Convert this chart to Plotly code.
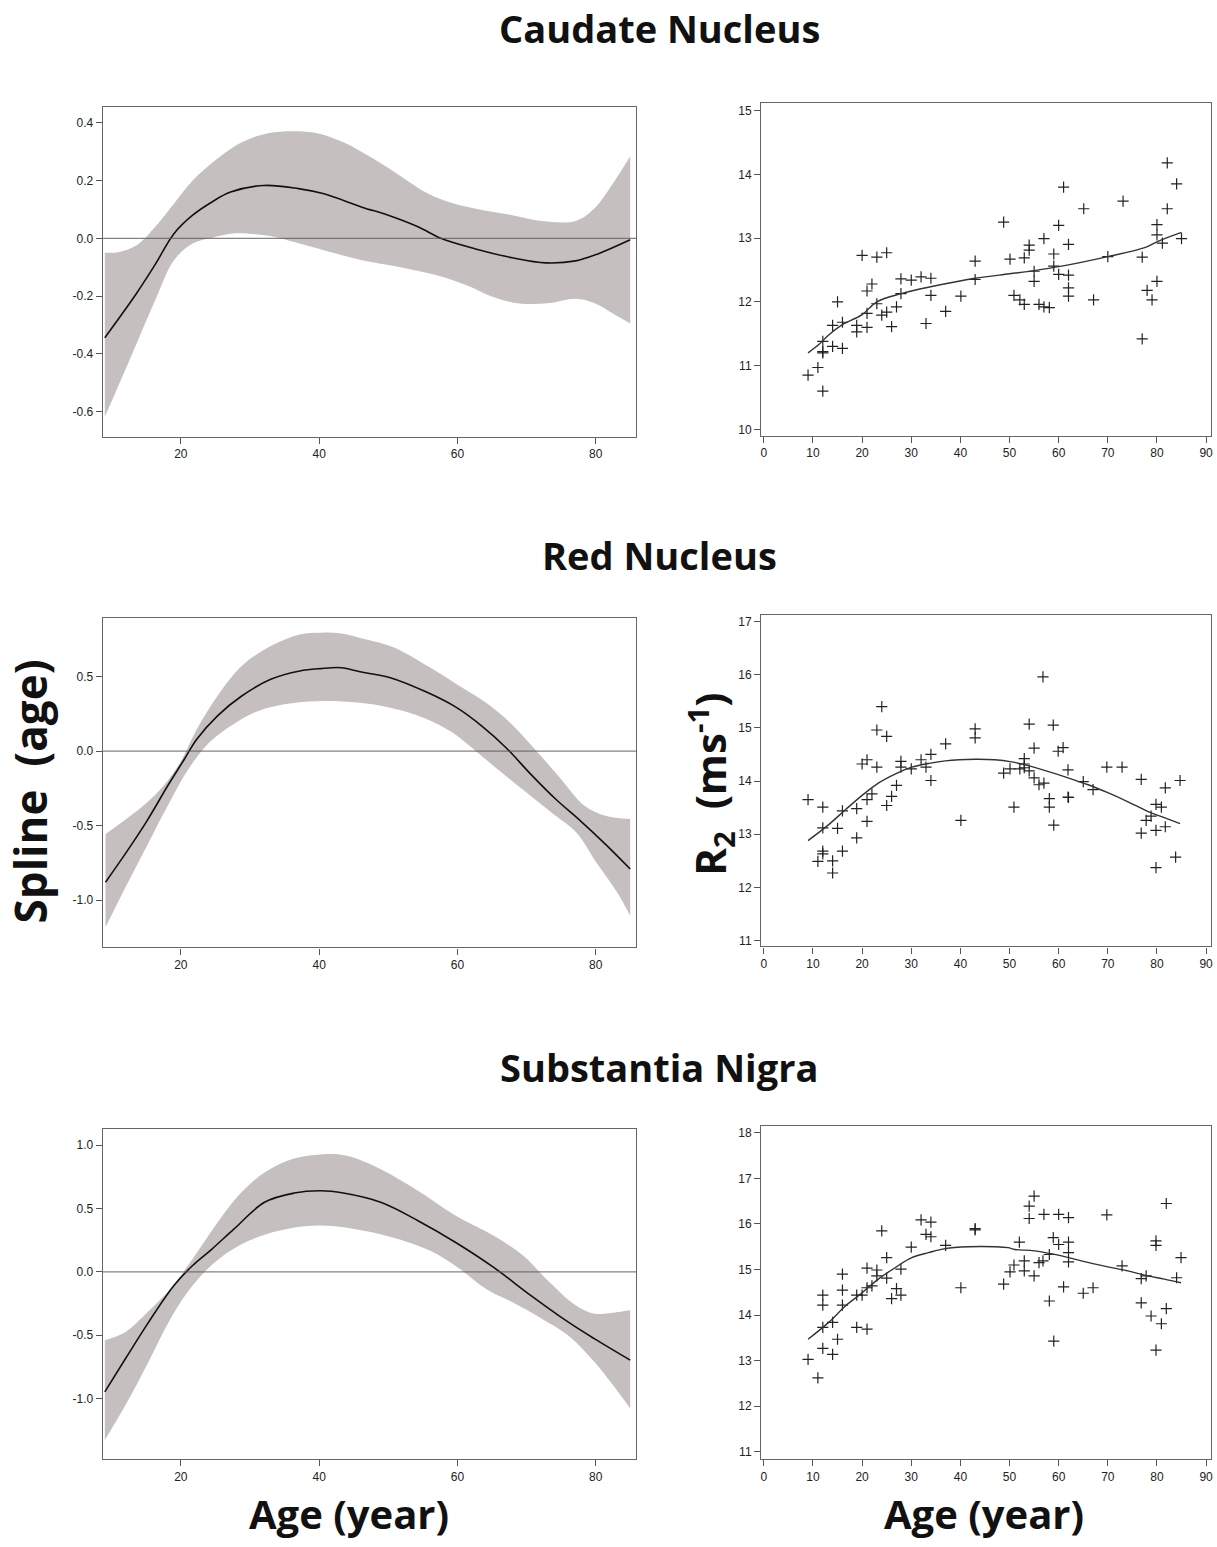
import plotly.graph_objects as go

# ---------------- Data ----------------
panel_titles = ["Caudate Nucleus", "Red Nucleus", "Substantia Nigra"]

# Spline (age) fits: curve and confidence band (left column)
cn_curve_x = [9, 13.6, 16.3, 19.0, 21.7, 24.5, 27.2, 32, 37, 40.7, 46.2, 50, 54.3, 57.6, 62.5, 67.9, 72.8, 77.1, 80.4, 85]
cn_curve_y = [-0.344, -0.19, -0.09, 0.016, 0.08, 0.126, 0.16, 0.183, 0.172, 0.154, 0.108, 0.08, 0.04, 0.0, -0.036, -0.067, -0.085, -0.078, -0.053, -0.005]
cn_up_x = [9, 10.9, 13.6, 16.3, 19, 21.7, 25.5, 28.8, 32.6, 36.4, 39.7, 43.5, 47.8, 51.6, 54.9, 58.1, 62.5, 67.9, 72.2, 77.1, 79.8, 82.5, 85]
cn_up_y = [-0.05, -0.048, -0.024, 0.04, 0.12, 0.2, 0.28, 0.333, 0.364, 0.371, 0.364, 0.333, 0.276, 0.218, 0.166, 0.131, 0.103, 0.08, 0.06, 0.06, 0.103, 0.19, 0.284]
cn_lo_x = [9, 10.9, 13.6, 16.3, 19, 21.7, 24.5, 27.2, 29.9, 33.1, 36.4, 40.7, 46.2, 51.6, 57.0, 61.4, 65.2, 69, 73.3, 77.1, 79.8, 82.5, 85]
cn_lo_y = [-0.618, -0.514, -0.364, -0.214, -0.076, -0.018, 0.002, 0.016, 0.016, 0.007, -0.013, -0.041, -0.076, -0.099, -0.128, -0.163, -0.203, -0.226, -0.224, -0.209, -0.224, -0.26, -0.295]

rn_curve_x = [9.1, 12.1, 15.1, 18.1, 20.5, 22.3, 25.3, 28.8, 33, 37.2, 40.2, 43.2, 46.1, 50.3, 55.7, 59.9, 63.5, 67, 70.6, 74.2, 77.8, 81.4, 85]
rn_curve_y = [-0.879, -0.679, -0.467, -0.232, -0.054, 0.08, 0.237, 0.37, 0.482, 0.538, 0.554, 0.56, 0.531, 0.493, 0.393, 0.292, 0.17, 0.025, -0.154, -0.321, -0.467, -0.623, -0.79]
rn_up_x = [9.1, 12.1, 15.1, 17.5, 19.9, 22.3, 25.3, 28.8, 33, 37.2, 40.2, 43.2, 46.7, 50.9, 55.7, 59.9, 64.1, 67.6, 71.2, 74.8, 78.4, 81.4, 85]
rn_up_y = [-0.556, -0.455, -0.344, -0.232, -0.076, 0.147, 0.37, 0.571, 0.705, 0.783, 0.795, 0.79, 0.75, 0.694, 0.571, 0.449, 0.326, 0.192, 0.013, -0.176, -0.366, -0.433, -0.455]
rn_lo_x = [9.1, 12.1, 15.1, 18.1, 21.1, 24.1, 27.6, 31.2, 36, 40.8, 45.6, 50.3, 55.1, 59.3, 62.9, 66.4, 70, 73.6, 77.2, 80.1, 83.1, 85]
rn_lo_y = [-1.18, -0.902, -0.634, -0.366, -0.12, 0.058, 0.181, 0.27, 0.321, 0.337, 0.326, 0.292, 0.225, 0.125, -0.009, -0.143, -0.277, -0.411, -0.545, -0.746, -0.946, -1.103]

sn_curve_x = [9, 12, 15.2, 19, 21.7, 24.5, 27.7, 32.1, 36.4, 40.2, 43.5, 48.9, 54.3, 59.7, 65.2, 70.6, 76, 79.8, 85]
sn_curve_y = [-0.948, -0.685, -0.409, -0.108, 0.05, 0.18, 0.339, 0.549, 0.622, 0.64, 0.622, 0.549, 0.404, 0.234, 0.037, -0.186, -0.396, -0.528, -0.698]
sn_up_x = [9, 12, 15.2, 18.5, 21.7, 25, 28.3, 32.1, 36.4, 40.7, 44, 48.9, 54.3, 59.7, 65.2, 69.5, 73.3, 77.1, 79.8, 82.5, 85]
sn_up_y = [-0.541, -0.475, -0.318, -0.134, 0.102, 0.365, 0.601, 0.785, 0.895, 0.929, 0.916, 0.811, 0.64, 0.444, 0.286, 0.129, -0.081, -0.265, -0.331, -0.323, -0.304]
sn_lo_x = [9, 12, 15.2, 18.5, 21.7, 25.5, 29.9, 34.2, 39.7, 45.1, 50.5, 56, 60.3, 64.1, 67.9, 72.2, 76, 79.8, 82.5, 85]
sn_lo_y = [-1.328, -1.052, -0.724, -0.37, -0.108, 0.102, 0.247, 0.325, 0.365, 0.339, 0.273, 0.168, 0.024, -0.134, -0.239, -0.37, -0.501, -0.711, -0.895, -1.079]

# R2 scatter data (right column)
cn_age = [9, 11, 12, 12, 12, 12, 14, 14, 15, 16, 16, 18.9, 18.9, 20, 21, 21, 21, 22, 23, 23, 24, 25, 25, 26, 27, 27.9, 27.9,
          30, 32, 33, 34, 34, 37, 40.1, 43, 43, 48.8, 50.1, 50.9, 52.1, 53, 53, 54, 54, 55, 55, 56, 57, 57, 58.1, 59, 59,
          60, 60, 61, 62, 62, 62, 62, 65.1, 67.1, 70, 73.1, 77, 77, 78, 79, 80, 80, 80, 81.1, 82.1, 82.1, 84, 85]
cn_r2 = [10.85, 10.97, 10.60, 11.38, 11.22, 11.20, 11.63, 11.30, 12.0, 11.68, 11.27, 11.63, 11.53, 12.73, 12.17, 11.82, 11.60,
         12.28, 12.70, 11.97, 11.79, 12.77, 11.84, 11.61, 11.92, 12.36, 12.13, 12.34, 12.39, 11.66, 12.37, 12.10, 11.85, 12.09,
         12.64, 12.35, 13.25, 12.67, 12.10, 12.03, 11.96, 12.69, 12.89, 12.81, 12.48, 12.32, 11.96, 12.99, 11.92, 11.91, 12.75,
         12.56, 13.20, 12.43, 13.80, 12.90, 12.42, 12.22, 12.09, 13.46, 12.03, 12.71, 13.58, 12.70, 11.42, 12.18, 12.03, 13.21,
         13.05, 12.32, 12.92, 14.18, 13.46, 13.85, 12.99]
cn_fit_x = [9, 11.2, 13.2, 15.9, 20, 23, 28, 34.2, 43, 50, 55, 60.6, 70, 77.5, 80.2, 85]
cn_fit_y = [11.20, 11.33, 11.48, 11.64, 11.80, 12.0, 12.13, 12.24, 12.37, 12.44, 12.49, 12.56, 12.71, 12.85, 12.95, 13.09]

rn_age = [9, 11, 12, 12, 12, 12, 14, 14, 15, 16, 16, 18.9, 18.9, 20, 21, 21, 21, 22, 23, 23, 24, 25, 25, 26, 27, 27.9, 27.9,
          30, 32, 33, 34, 34, 37, 40.1, 43, 43, 48.8, 50.1, 50.9, 52.1, 53, 53, 53, 54, 54, 55, 55, 56, 56.8, 57, 58.1, 58.1,
          58.9, 59, 59.9, 60.9, 61.9, 61.9, 62, 65, 67, 69.8, 72.9, 76.8, 76.8, 77.8, 78.8, 79.8, 79.8, 79.8, 80.9, 81.7, 81.7,
          83.8, 84.7]
rn_r2 = [13.65, 12.49, 13.51, 13.12, 12.68, 12.63, 12.50, 12.27, 13.11, 13.44, 12.68, 13.48, 12.93, 14.32, 14.40, 13.65, 13.24,
         13.76, 14.96, 14.26, 15.40, 14.84, 13.54, 13.71, 13.92, 14.37, 14.26, 14.23, 14.40, 14.26, 14.50, 14.01, 14.70, 13.26,
         14.98, 14.81, 14.15, 14.23, 13.51, 14.23, 14.42, 14.32, 14.25, 15.07, 14.19, 14.62, 14.06, 13.93, 15.96, 13.96, 13.67,
         13.51, 15.05, 13.17, 14.56, 14.63, 14.21, 13.70, 13.69, 13.99, 13.84, 14.26, 14.26, 14.03, 13.02, 13.26, 13.34, 13.56,
         13.07, 12.37, 13.51, 13.87, 13.14, 12.57, 14.01]
rn_fit_x = [9, 13.2, 16.6, 20, 23.3, 26.7, 30.1, 33.5, 36.9, 43, 47, 50.4, 53.8, 57.8, 61.9, 66, 70, 74.1, 78.1, 81.5, 84.7]
rn_fit_y = [12.88, 13.18, 13.46, 13.73, 13.96, 14.13, 14.26, 14.33, 14.38, 14.41, 14.40, 14.36, 14.29, 14.18, 14.06, 13.93, 13.78,
            13.61, 13.43, 13.31, 13.20]

sn_age = [9, 11, 12, 12, 12, 12, 14, 14, 15, 16, 16, 16, 18.9, 18.9, 20, 21, 21, 21, 22, 23, 23, 24, 25, 25, 26, 27, 27.9, 27.9,
          30, 32, 33, 34, 34, 37, 40.1, 43, 43, 48.8, 50.1, 50.9, 52, 53, 53, 54, 54, 55, 55, 56, 56.8, 57, 58.1, 58.1, 58.9, 59,
          60, 60, 61, 62, 62, 62, 62, 65, 67, 69.8, 72.9, 76.8, 76.8, 77.8, 78.8, 79.8, 79.8, 79.8, 80.9, 81.9, 81.9, 84, 84.9]
sn_r2 = [13.03, 12.62, 14.44, 14.22, 13.73, 13.27, 13.84, 13.14, 13.47, 14.90, 14.55, 14.22, 14.44, 13.73, 14.44, 15.03, 14.60,
         13.69, 14.64, 14.99, 14.86, 15.85, 15.26, 14.81, 14.36, 14.58, 15.01, 14.44, 15.49, 16.09, 15.77, 16.04, 15.72, 15.53,
         14.60, 15.90, 15.87, 14.68, 14.95, 15.10, 15.60, 15.19, 14.97, 16.39, 16.12, 16.61, 14.86, 15.15, 15.19, 16.21, 15.33,
         14.31, 15.70, 13.43, 16.21, 15.55, 14.62, 16.14, 15.60, 15.37, 15.17, 14.48, 14.60, 16.20, 15.08, 14.80, 14.27, 14.86,
         13.98, 15.63, 15.53, 13.23, 13.81, 14.14, 16.45, 14.82, 15.26]
sn_fit_x = [9, 13.2, 16.6, 20, 23.3, 26.7, 30.1, 33.5, 36.9, 41.6, 47, 49.7, 51.1, 55.1, 60.6, 64.6, 70, 74.1, 78.1, 81.5, 84.9]
sn_fit_y = [13.47, 13.84, 14.20, 14.49, 14.79, 15.04, 15.26, 15.37, 15.46, 15.50, 15.50, 15.48, 15.44, 15.41, 15.30, 15.19, 15.06,
            14.97, 14.86, 14.79, 14.71]

left_y_ranges = [[-0.687, 0.455], [-1.316, 0.896], [-1.479, 1.126]]
left_y_ticks = [[-0.6, -0.4, -0.2, 0.0, 0.2, 0.4], [-1.0, -0.5, 0.0, 0.5], [-1.0, -0.5, 0.0, 0.5, 1.0]]
right_y_ranges = [[9.9, 15.12], [10.89, 17.13], [10.84, 18.145]]
right_y_ticks = [list(range(10, 16)), list(range(11, 18)), list(range(11, 19))]
left_x_ticks = [20, 40, 60, 80]
right_x_ticks = list(range(0, 91, 10))

# ---------------- Figure ----------------
W, H = 1217, 1547
fig = go.Figure()

band_color = "#c6bfbf"
left_rows = [
    (cn_curve_x, cn_curve_y, cn_up_x, cn_up_y, cn_lo_x, cn_lo_y),
    (rn_curve_x, rn_curve_y, rn_up_x, rn_up_y, rn_lo_x, rn_lo_y),
    (sn_curve_x, sn_curve_y, sn_up_x, sn_up_y, sn_lo_x, sn_lo_y),
]
right_rows = [
    (cn_age, cn_r2, cn_fit_x, cn_fit_y),
    (rn_age, rn_r2, rn_fit_x, rn_fit_y),
    (sn_age, sn_r2, sn_fit_x, sn_fit_y),
]

left_box_px = [(107, 437), (618, 948), (1130, 1460)]
right_box_px = [(103, 436), (615, 947), (1127, 1460)]
left_x_px = (102, 637)
right_x_px = (762, 1213)

tick_font = dict(family="Liberation Sans, Arial", size=12, color="#222")
axis_common = dict(showline=True, linecolor="#666", linewidth=1.3, mirror=True, ticks="outside",
                   ticklen=6, tickwidth=1.2, tickcolor="#555", showgrid=False, zeroline=False,
                   tickfont=tick_font)

def fmt_tick(v):
    return f"{v:.1f}"  # plain hyphen-minus as in the reference

layout_axes = {}
for i in range(3):
    xa_l = 2 * i + 1
    xa_r = 2 * i + 2
    cx, cy, ux, uy, lx, ly = left_rows[i]
    xs = "x" if xa_l == 1 else f"x{xa_l}"
    ys = "y" if xa_l == 1 else f"y{xa_l}"
    # confidence band: lower bound, then upper bound filled to it
    fig.add_trace(go.Scatter(x=lx, y=ly, mode="lines", line=dict(width=0, shape="spline", color=band_color),
                             hoverinfo="skip", showlegend=False, xaxis=xs, yaxis=ys))
    fig.add_trace(go.Scatter(x=ux, y=uy, mode="lines", fill="tonexty", fillcolor=band_color,
                             line=dict(width=0, shape="spline", color=band_color),
                             hoverinfo="skip", showlegend=False, xaxis=xs, yaxis=ys))
    fig.add_trace(go.Scatter(x=cx, y=cy, mode="lines", line=dict(color="#111", width=1.6, shape="spline"),
                             showlegend=False, xaxis=xs, yaxis=ys))
    fig.add_shape(type="line", xref=f"{xs} domain", yref=ys, x0=0, x1=1, y0=0, y1=0,
                  line=dict(color="rgba(90,90,90,0.75)", width=1.2), layer="above")

    top, bot = left_box_px[i]
    layout_axes[f"xaxis{xa_l if xa_l > 1 else ''}"] = dict(
        domain=[left_x_px[0] / W, left_x_px[1] / W], range=[8.7, 85.9], tickvals=left_x_ticks,
        anchor=ys, **axis_common)
    layout_axes[f"yaxis{xa_l if xa_l > 1 else ''}"] = dict(
        domain=[1 - bot / H, 1 - top / H], range=left_y_ranges[i], tickvals=left_y_ticks[i],
        ticktext=[fmt_tick(v) for v in left_y_ticks[i]], anchor=xs, **axis_common)

    age, r2, fx, fy = right_rows[i]
    xs2 = f"x{xa_r}"
    ys2 = f"y{xa_r}"
    fig.add_trace(go.Scatter(x=age, y=r2, mode="markers",
                             marker=dict(symbol="cross-thin", size=8, line=dict(color="#222", width=1.2)),
                             showlegend=False, xaxis=xs2, yaxis=ys2))
    fig.add_trace(go.Scatter(x=fx, y=fy, mode="lines", line=dict(color="#333", width=1.4, shape="spline"),
                             showlegend=False, xaxis=xs2, yaxis=ys2))
    top, bot = right_box_px[i]
    layout_axes[f"xaxis{xa_r}"] = dict(
        domain=[right_x_px[0] / W, right_x_px[1] / W], range=[-0.55, 91], tickvals=right_x_ticks,
        anchor=ys2, **axis_common)
    layout_axes[f"yaxis{xa_r}"] = dict(
        domain=[1 - bot / H, 1 - top / H], range=right_y_ranges[i], tickvals=right_y_ticks[i],
        anchor=xs2, **axis_common)

title_font = dict(family="Open Sans", size=38, color="#111")
label_font = dict(family="Open Sans", size=42, color="#111")
annotations = []
for t, ypx in zip(panel_titles, [28, 555, 1068]):
    annotations.append(dict(text=f"<b>{t}</b>", x=660 / W, y=1 - ypx / H, xref="paper", yref="paper",
                            xanchor="center", yanchor="middle", showarrow=False, font=title_font))
annotations.append(dict(text="<b>Spline  (age)</b>", x=30 / W, y=1 - 792 / H, xref="paper", yref="paper",
                        xanchor="center", yanchor="middle", showarrow=False, textangle=-90,
                        font=dict(family="Open Sans", size=44, color="#111")))
annotations.append(dict(text="<b>R<sub>2</sub>  (ms<sup>-1</sup>)</b>", x=712 / W, y=1 - 785 / H, xref="paper",
                        yref="paper", xanchor="center", yanchor="middle", showarrow=False, textangle=-90,
                        font=label_font))
for xpx in [349, 985]:
    annotations.append(dict(text="<b>Age (year)</b>", x=xpx / W, y=3 / H, xref="paper", yref="paper",
                            xanchor="center", yanchor="bottom", showarrow=False,
                            font=dict(family="Open Sans", size=40, color="#111")))

fig.update_layout(width=W, height=H, margin=dict(l=0, r=0, t=0, b=0), paper_bgcolor="white",
                  plot_bgcolor="white", showlegend=False, annotations=annotations, **layout_axes)

fig.write_html("out.html")
